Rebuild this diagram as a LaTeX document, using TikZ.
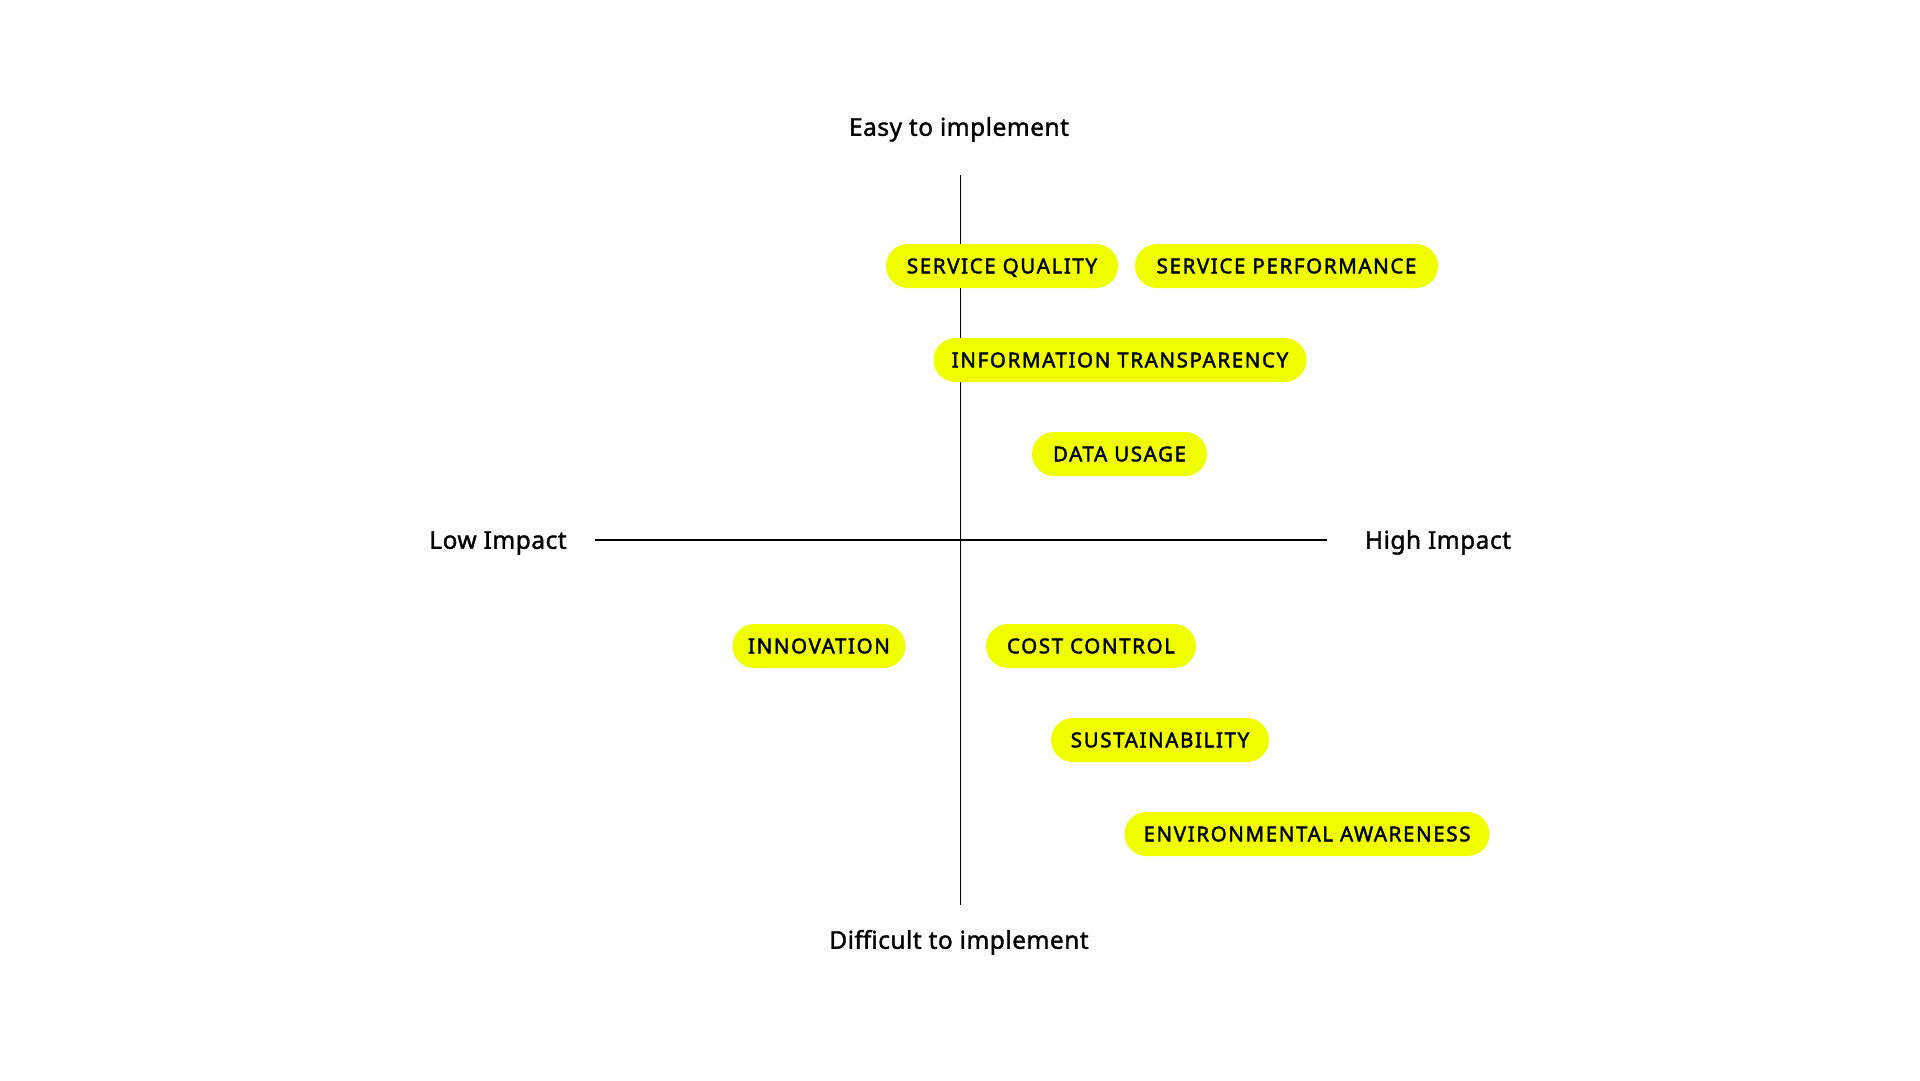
\documentclass[tikz,border=0pt]{standalone}
\usepackage{fontspec}
\setmainfont{Noto Sans}
\newfontfamily\pillfont{Noto Sans}[LetterSpace=8, FakeBold=2]
\newfontfamily\axisfont{Noto Sans}[LetterSpace=2, FakeBold=1.4]
\definecolor{pillyellow}{RGB}{240,255,0}
\begin{document}
\begin{tikzpicture}[x=1pt,y=-1pt,
  pill/.style={fill=pillyellow, rounded corners=22pt, minimum height=44pt,
    inner xsep=0pt, inner ysep=0pt, text height=14.6pt, text depth=0pt,
    font=\pillfont\fontsize{20.5}{22}\selectfont, text=black},
  axislabel/.style={font=\axisfont\fontsize{24.5}{27}\selectfont, text=black,
    inner sep=0pt, text height=17.5pt, text depth=0pt},
  axisline/.style={draw=black, line width=1pt}]
\useasboundingbox (0,0) rectangle (1920,1080);
\fill[white] (0,0) rectangle (1920,1080);
% axes
\coordinate (top) at (960,175);
\coordinate (bot) at (960,905);
\coordinate (lft) at (595,540);
\coordinate (rgt) at (1327,540);
\draw[axisline] (top) -- (bot);
\draw[axisline, line width=1.5pt] (lft) -- (rgt);
% axis labels
\node[axislabel] (easy) at (959,127) {Easy to implement};
\node[axislabel] (diff) at (959,940) {Difficult to implement};
\node[axislabel] (low) at (498,540) {Low Impact};
\node[axislabel] (high) at (1438,540) {High Impact};
% pills
\node[pill, minimum width=232pt] (sq) at (1002,266) {SERVICE QUALITY};
\node[pill, minimum width=303pt] (sp) at (1286.5,266) {SERVICE PERFORMANCE};
\node[pill, minimum width=373pt] (it) at (1120,360) {INFORMATION TRANSPARENCY};
\node[pill, minimum width=175pt] (du) at (1119.5,454) {DATA USAGE};
\node[pill, minimum width=173pt] (inn) at (819,646) {INNOVATION};
\node[pill, minimum width=210pt] (cc) at (1091,646) {COST CONTROL};
\node[pill, minimum width=218pt] (sus) at (1160,740) {SUSTAINABILITY};
\node[pill, minimum width=365pt] (env) at (1307,834) {ENVIRONMENTAL AWARENESS};
\end{tikzpicture}
\end{document}
